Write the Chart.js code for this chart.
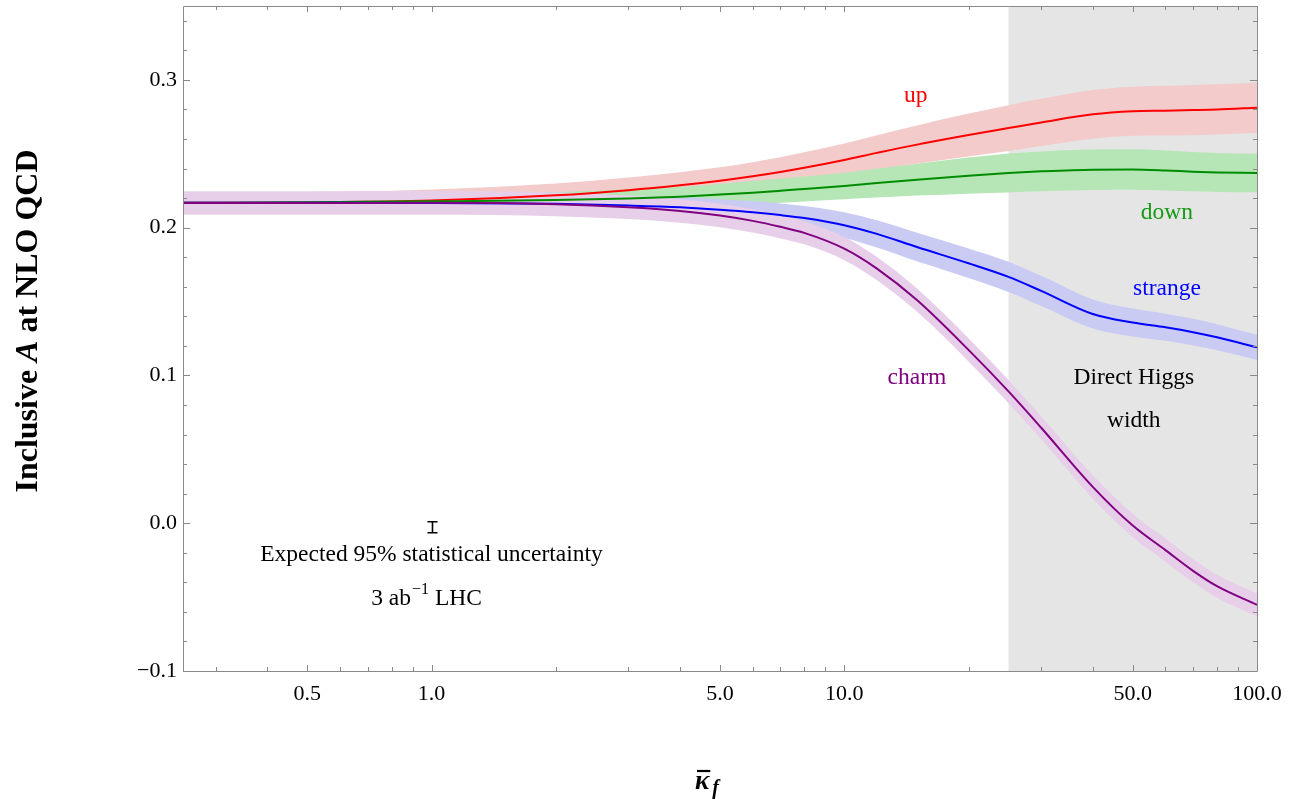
<!DOCTYPE html>
<html>
<head>
<meta charset="utf-8">
<script src="https://cdn.jsdelivr.net/npm/chart.js@4.4.1/dist/chart.umd.min.js"></script>
<style>
html,body{margin:0;padding:0;background:#ffffff;}
#wrap{width:1305px;height:799px;position:relative;}
canvas{display:block;}
</style>
</head>
<body>
<div id="wrap"><canvas id="c" width="1305" height="799"></canvas></div>
<script>
// ---------------- DATA ----------------
const kappa = [0.25, 0.5, 1, 2, 3, 4, 5, 6, 7, 8, 10, 12, 15, 20, 25, 30, 40, 50, 60, 70, 80, 100];

const upValues = [0.2168, 0.2171, 0.2183, 0.2219, 0.2254, 0.2287, 0.2318, 0.2348, 0.2377, 0.2405, 0.2458, 0.2506, 0.2562, 0.2627, 0.2674, 0.2712, 0.2767, 0.2788, 0.2792, 0.2796, 0.2800, 0.2812];
const upErr    = [0.0060, 0.0065, 0.0075, 0.0080, 0.0085, 0.0088, 0.0090, 0.0095, 0.0100, 0.0105, 0.0112, 0.0120, 0.0130, 0.0145, 0.0155, 0.0160, 0.0165, 0.0166, 0.0168, 0.0170, 0.0170, 0.0170];

const downValues = [0.2168, 0.2172, 0.2178, 0.2187, 0.2198, 0.2210, 0.2224, 0.2237, 0.2250, 0.2262, 0.2282, 0.2302, 0.2325, 0.2352, 0.2370, 0.2381, 0.2392, 0.2393, 0.2387, 0.2379, 0.2374, 0.2370];
const downErr    = [0.0050, 0.0050, 0.0052, 0.0055, 0.0060, 0.0065, 0.0072, 0.0078, 0.0082, 0.0085, 0.0090, 0.0098, 0.0108, 0.0122, 0.0132, 0.0135, 0.0137, 0.0137, 0.0135, 0.0133, 0.0132, 0.0130];

const strangeValues = [0.2168, 0.2168, 0.2167, 0.2161, 0.2150, 0.2138, 0.2121, 0.2104, 0.2085, 0.2065, 0.2017, 0.1958, 0.1869, 0.1759, 0.1667, 0.1572, 0.1416, 0.1358, 0.1326, 0.1293, 0.1258, 0.1190];
const strangeErr    = [0.0050, 0.0050, 0.0052, 0.0058, 0.0063, 0.0068, 0.0072, 0.0076, 0.0079, 0.0082, 0.0087, 0.0092, 0.0097, 0.0100, 0.0102, 0.0102, 0.0098, 0.0095, 0.0092, 0.0090, 0.0088, 0.0085];

const charmValues = [0.2167, 0.2167, 0.2168, 0.2158, 0.2138, 0.2113, 0.2082, 0.2046, 0.2006, 0.1965, 0.1858, 0.1723, 0.1510, 0.1173, 0.0892, 0.0646, 0.0246, -0.0016, -0.0182, -0.0322, -0.0426, -0.0552];
const charmErr    = [0.0080, 0.0080, 0.0080, 0.0080, 0.0080, 0.0080, 0.0080, 0.0079, 0.0079, 0.0078, 0.0078, 0.0078, 0.0078, 0.0078, 0.0078, 0.0078, 0.0078, 0.0078, 0.0078, 0.0078, 0.0078, 0.0078];

const xLabelTicks = [0.5, 1, 5, 10, 50, 100];
const xMinorTicks = [0.3, 0.4, 0.5, 0.6, 0.7, 0.8, 0.9, 1, 2, 3, 4, 5, 6, 7, 8, 9, 10, 20, 30, 40, 50, 60, 70, 80, 90, 100];
const yLabelTicks = [-0.1, 0.0, 0.1, 0.2, 0.3];
const yMinorTicks = [-0.1, -0.08, -0.06, -0.04, -0.02, 0.0, 0.02, 0.04, 0.06, 0.08, 0.1, 0.12, 0.14, 0.16, 0.18, 0.2, 0.22, 0.24, 0.26, 0.28, 0.3, 0.32, 0.34];

const directWidthStart = 25;      // shaded region: kappa from 25 to 100
const errorBarCenter = -0.0027;   // expected 95% statistical uncertainty marker
const errorBarHalf = 0.0037;

// text annotations (data coordinates)
const curveLabels = [
  {text: 'up',      x: 14.9, y: 0.2891, color: '#ff0000'},
  {text: 'down',    x: 60.5, y: 0.2102, color: '#149a14'},
  {text: 'strange', x: 60.5, y: 0.1585, color: '#0000ff'},
  {text: 'charm',   x: 15.0, y: 0.0986, color: '#800080'},
  {text: 'Direct Higgs', x: 50.3, y: 0.0986, color: '#000000'},
  {text: 'width',   x: 50.3, y: 0.0694, color: '#000000'},
  {text: 'Expected 95% statistical uncertainty', x: 1.0, y: -0.0211, color: '#000000'}
];

// --------------- BUILD ----------------
const SERIF = "'Liberation Serif', 'Times New Roman', serif";
const LABEL_SIZE = 23.5;

function pts(vals, errs, sign) {
  return kappa.map((x, i) => ({x: x, y: vals[i] + sign * (errs ? errs[i] : 0)}));
}
function bandSets(vals, errs, color, order) {
  return [
    {data: pts(vals, errs, -1), borderWidth: 0, borderColor: 'rgba(0,0,0,0)', pointRadius: 0, fill: false, order: order},
    {data: pts(vals, errs, +1), borderWidth: 0, borderColor: 'rgba(0,0,0,0)', pointRadius: 0, fill: '-1', backgroundColor: color, order: order}
  ];
}
function lineSet(vals, color, order) {
  return {data: pts(vals, null, 0), borderWidth: 2, borderColor: color, pointRadius: 0, fill: false, order: order};
}

const datasets = [
  ...bandSets(upValues, upErr, '#f3cbcb', 20),
  ...bandSets(downValues, downErr, '#b6e6b6', 18),
  ...bandSets(strangeValues, strangeErr, '#cacbf3', 16),
  ...bandSets(charmValues, charmErr, '#e7cfe9', 14),
  lineSet(upValues, '#ff0000', 8),
  lineSet(downValues, '#008c00', 7),
  lineSet(strangeValues, '#0000ff', 6),
  lineSet(charmValues, '#800080', 5)
];

function fmt(v) {
  const s = Number(v).toFixed(1);
  return s.replace('-', '\u2212');
}

const shadePlugin = {
  id: 'shade',
  beforeDatasetsDraw(chart) {
    const {ctx, chartArea, scales} = chart;
    const x0 = scales.x.getPixelForValue(directWidthStart);
    const x1 = chartArea.right;
    ctx.save();
    ctx.fillStyle = '#e5e5e5';
    ctx.fillRect(x0, chartArea.top, x1 - x0, chartArea.bottom - chartArea.top);
    ctx.restore();
  }
};

const framePlugin = {
  id: 'frame',
  afterDatasetsDraw(chart) {
    const {ctx, chartArea, scales} = chart;
    const {left, right, top, bottom} = chartArea;
    ctx.save();
    ctx.strokeStyle = '#8a8a8a';
    ctx.lineWidth = 1;
    ctx.beginPath();
    ctx.moveTo(left + 0.5, top + 0.5); ctx.lineTo(left + 0.5, bottom + 0.5);
    ctx.lineTo(right + 0.5, bottom + 0.5); ctx.lineTo(right + 0.5, top + 0.5);
    ctx.closePath();
    ctx.stroke();
    ctx.beginPath();
    xMinorTicks.forEach(v => {
      const px = Math.round(scales.x.getPixelForValue(v)) + 0.5;
      const len = xLabelTicks.includes(v) ? 6 : 4;
      ctx.moveTo(px, bottom); ctx.lineTo(px, bottom - len);
      ctx.moveTo(px, top); ctx.lineTo(px, top + len);
    });
    yMinorTicks.forEach(v => {
      const py = Math.round(scales.y.getPixelForValue(v)) + 0.5;
      const major = yLabelTicks.some(t => Math.abs(t - v) < 1e-9);
      const len = major ? 7 : 4;
      ctx.moveTo(left, py); ctx.lineTo(left + len, py);
      ctx.moveTo(right, py); ctx.lineTo(right - len, py);
    });
    ctx.stroke();
    ctx.restore();
  }
};

const textPlugin = {
  id: 'texts',
  afterDraw(chart) {
    const {ctx, scales} = chart;
    const X = v => scales.x.getPixelForValue(v);
    const Y = v => scales.y.getPixelForValue(v);
    ctx.save();
    ctx.textAlign = 'center';
    ctx.textBaseline = 'middle';
    curveLabels.forEach(l => {
      ctx.font = LABEL_SIZE + 'px ' + SERIF;
      ctx.fillStyle = l.color;
      ctx.fillText(l.text, X(l.x), Y(l.y));
    });

    // "3 ab^-1 LHC"
    {
      const cx = X(0.97), cy = Y(-0.0510);
      const a = '3 ab', sup = '\u22121', b = ' LHC';
      ctx.font = LABEL_SIZE + 'px ' + SERIF; const wa = ctx.measureText(a).width; const wb = ctx.measureText(b).width;
      ctx.font = '16px ' + SERIF; const ws = ctx.measureText(sup).width;
      let x = cx - (wa + ws + wb) / 2;
      ctx.textAlign = 'left';
      ctx.fillStyle = '#000';
      ctx.font = LABEL_SIZE + 'px ' + SERIF; ctx.fillText(a, x, cy); x += wa;
      ctx.font = '16px ' + SERIF; ctx.fillText(sup, x + 1, cy - 9); x += ws + 1;
      ctx.font = LABEL_SIZE + 'px ' + SERIF; ctx.fillText(b, x, cy);
    }

    // error bar marker
    {
      const px = Math.round(X(1.0)) + 0.5;
      const y0 = Y(errorBarCenter - errorBarHalf), y1 = Y(errorBarCenter + errorBarHalf);
      ctx.strokeStyle = '#000';
      ctx.lineWidth = 1.6;
      ctx.beginPath();
      ctx.moveTo(px, y0); ctx.lineTo(px, y1);
      ctx.moveTo(px - 5, y0); ctx.lineTo(px + 5, y0);
      ctx.moveTo(px - 5, y1); ctx.lineTo(px + 5, y1);
      ctx.stroke();
    }

    // y-axis title
    {
      ctx.save();
      ctx.translate(29, 321);
      ctx.rotate(-Math.PI / 2);
      ctx.fillStyle = '#000';
      ctx.textBaseline = 'middle';
      ctx.textAlign = 'left';
      const parts = [
        {t: 'Inclusive ', f: 'bold 32px ' + SERIF},
        {t: 'A', f: 'italic bold 32px ' + SERIF},
        {t: ' at NLO QCD', f: 'bold 32px ' + SERIF}
      ];
      let w = 0;
      parts.forEach(p => { ctx.font = p.f; p.w = ctx.measureText(p.t).width; w += p.w; });
      let x = -w / 2;
      parts.forEach(p => { ctx.font = p.f; ctx.fillText(p.t, x, 0); x += p.w; });
      ctx.restore();
    }

    // x-axis title: kappa-bar sub f
    {
      ctx.fillStyle = '#000';
      ctx.textAlign = 'left';
      ctx.textBaseline = 'alphabetic';
      ctx.font = 'italic bold 27px ' + SERIF;
      const kx = 695, ky = 789;
      const kw = ctx.measureText('\u03ba').width;
      ctx.fillText('\u03ba', kx, ky);
      ctx.strokeStyle = '#000';
      ctx.lineWidth = 2.2;
      ctx.beginPath();
      ctx.moveTo(kx + 2, 771); ctx.lineTo(kx + kw + 1, 771);
      ctx.stroke();
      ctx.font = 'italic bold 20px ' + SERIF;
      ctx.fillText('f', kx + kw + 3, 794);
    }
    ctx.restore();
  }
};

new Chart(document.getElementById('c'), {
  type: 'line',
  data: {datasets: datasets},
  options: {
    responsive: false,
    animation: false,
    events: [],
    datasets: {line: {cubicInterpolationMode: 'monotone'}},
    plugins: {legend: {display: false}, tooltip: {enabled: false}, filler: {propagate: false}},
    layout: {padding: {left: 0, right: 48, top: 6, bottom: 0}},
    scales: {
      x: {
        type: 'logarithmic', min: 0.25, max: 100,
        grid: {display: false, drawTicks: false},
        border: {display: false},
        afterBuildTicks: s => { s.ticks = xLabelTicks.map(v => ({value: v})); },
        ticks: {autoSkip: false, maxRotation: 0, minRotation: 0, padding: 10, color: '#000',
                font: {family: SERIF, size: 22}, callback: v => fmt(v)},
        afterFit: s => { s.height = 128; s.paddingLeft = 0; s.paddingRight = 0; }
      },
      y: {
        type: 'linear', min: -0.1, max: 0.35,
        grid: {display: false, drawTicks: false},
        border: {display: false},
        afterBuildTicks: s => { s.ticks = yLabelTicks.map(v => ({value: v})); },
        ticks: {padding: 6, color: '#000', font: {family: SERIF, size: 22}, callback: v => fmt(v)},
        afterFit: s => { s.width = 183; s.paddingTop = 0; s.paddingBottom = 0; }
      }
    }
  },
  plugins: [shadePlugin, framePlugin, textPlugin]
});
</script>
</body>
</html>
